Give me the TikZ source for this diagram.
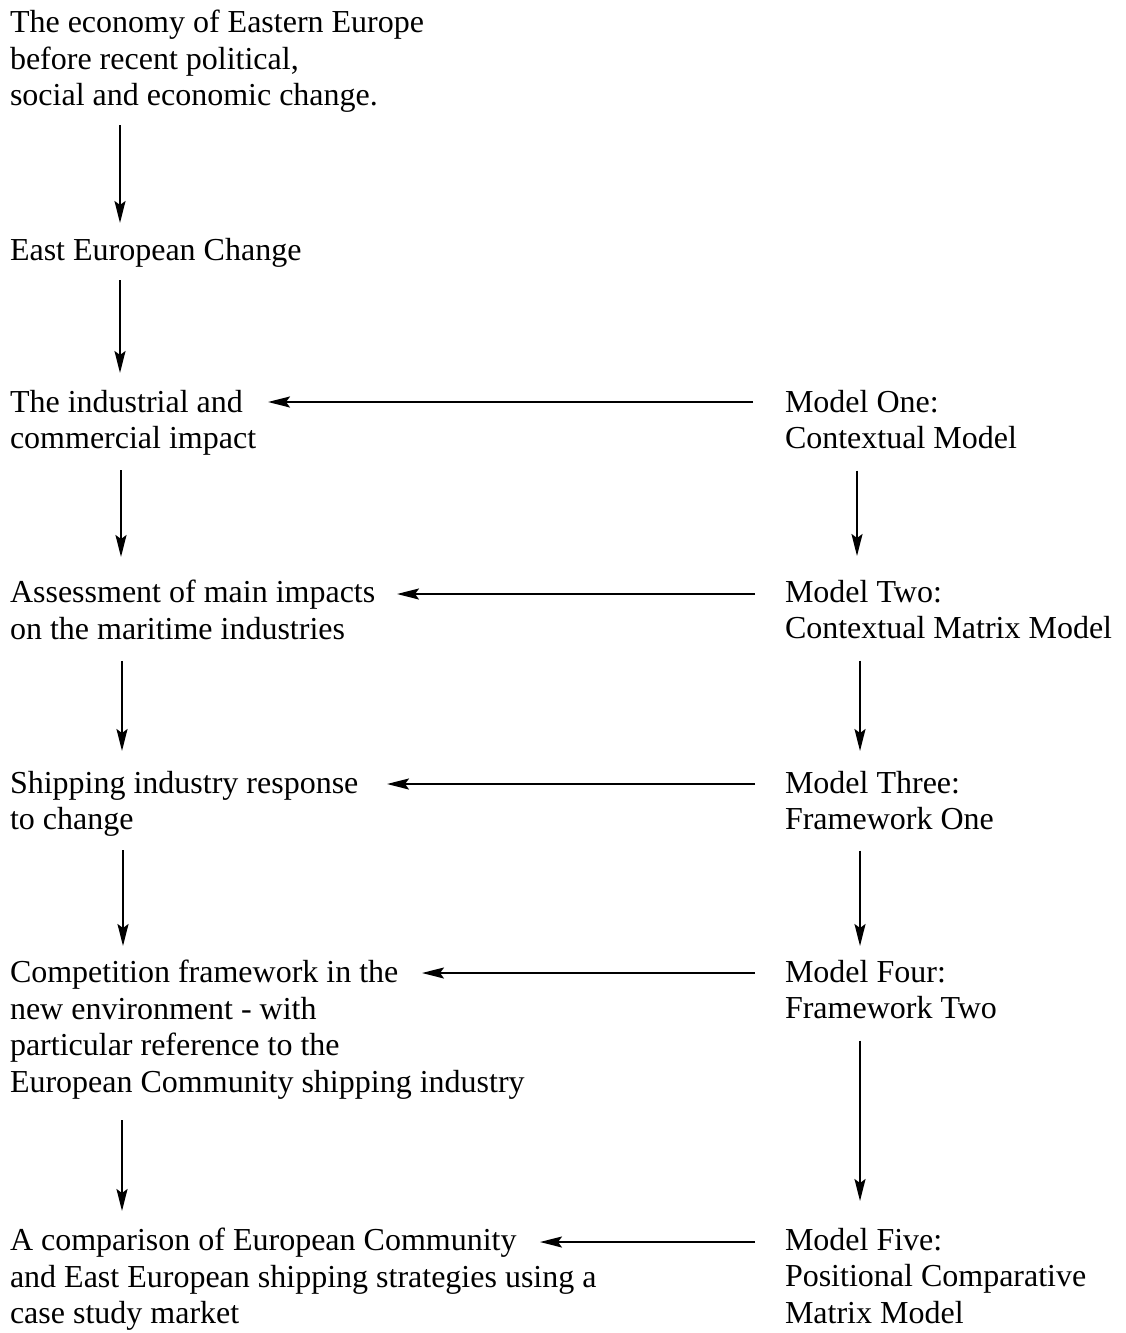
\documentclass[tikz,border=0pt]{standalone}
\usepackage{fontspec}
\setmainfont{Liberation Serif}
\usetikzlibrary{arrows.meta}
\begin{document}
\begin{tikzpicture}[x=1pt,y=-1pt,
  txt/.style={anchor=north west,inner sep=0pt,outer sep=0pt,align=left,
    font=\fontsize{32}{36.5}\selectfont},
  arr/.style={line width=2.1pt,-{Stealth[length=22pt,width=11pt,inset=4pt]}}]
\useasboundingbox (0,0) rectangle (1125,1333);
% left column
\node[txt] (n1) at (10,10) {The economy of Eastern Europe\\before recent political,\\social and economic change.};
\node[txt] (n2) at (10,238) {East European Change};
\node[txt] (n3) at (10,390) {The industrial and\\commercial impact};
\node[txt] (n4) at (10,580) {Assessment of main impacts\\on the maritime industries};
\node[txt] (n5) at (10,771) {Shipping industry response\\to change};
\node[txt] (n6) at (10,960) {Competition framework in the\\new environment - with\\particular reference to the\\European Community shipping industry};
\node[txt] (n7) at (10,1228) {A comparison of European Community\\and East European shipping strategies using a\\case study market};
% right column
\node[txt] (m1) at (785,390) {Model One:\\Contextual Model};
\node[txt] (m2) at (785,580) {Model Two:\\Contextual Matrix Model};
\node[txt] (m3) at (785,771) {Model Three:\\Framework One};
\node[txt] (m4) at (785,960) {Model Four:\\Framework Two};
\node[txt] (m5) at (785,1228) {Model Five:\\Positional Comparative\\Matrix Model};
% left vertical arrows
\draw[arr] ([shift={(110pt,-13pt)}]n1.south west) -- ([shift={(110pt,15pt)}]n2.north west);
\draw[arr] ([shift={(110pt,-13pt)}]n2.south west) -- ([shift={(110pt,17pt)}]n3.north west);
\draw[arr] ([shift={(111pt,-14.5pt)}]n3.south west) -- ([shift={(111pt,23pt)}]n4.north west);
\draw[arr] ([shift={(112pt,-21.5pt)}]n4.south west) -- ([shift={(112pt,20pt)}]n5.north west);
\draw[arr] ([shift={(113pt,-13.5pt)}]n5.south west) -- ([shift={(113pt,14pt)}]n6.north west);
\draw[arr] ([shift={(112pt,-21.5pt)}]n6.south west) -- ([shift={(112pt,17pt)}]n7.north west);
% right vertical arrows
\draw[arr] ([shift={(72pt,-21.5pt)}]m1.south west) -- ([shift={(72pt,24pt)}]m2.north west);
\draw[arr] ([shift={(75pt,-21.5pt)}]m2.south west) -- ([shift={(75pt,20pt)}]m3.north west);
\draw[arr] ([shift={(75pt,-20.5pt)}]m3.south west) -- ([shift={(75pt,14pt)}]m4.north west);
\draw[arr] ([shift={(75pt,-21.5pt)}]m4.south west) -- ([shift={(75pt,27pt)}]m5.north west);
% horizontal arrows
\draw[arr] ([shift={(-32pt,-12pt)}]m1.north west) -- ([shift={(258pt,-12pt)}]n3.north west);
\draw[arr] ([shift={(-30pt,-14pt)}]m2.north west) -- ([shift={(387pt,-14pt)}]n4.north west);
\draw[arr] ([shift={(-30pt,-13pt)}]m3.north west) -- ([shift={(377pt,-13pt)}]n5.north west);
\draw[arr] ([shift={(-30pt,-13pt)}]m4.north west) -- ([shift={(412pt,-13pt)}]n6.north west);
\draw[arr] ([shift={(-30pt,-14pt)}]m5.north west) -- ([shift={(530pt,-14pt)}]n7.north west);
\end{tikzpicture}
\end{document}
